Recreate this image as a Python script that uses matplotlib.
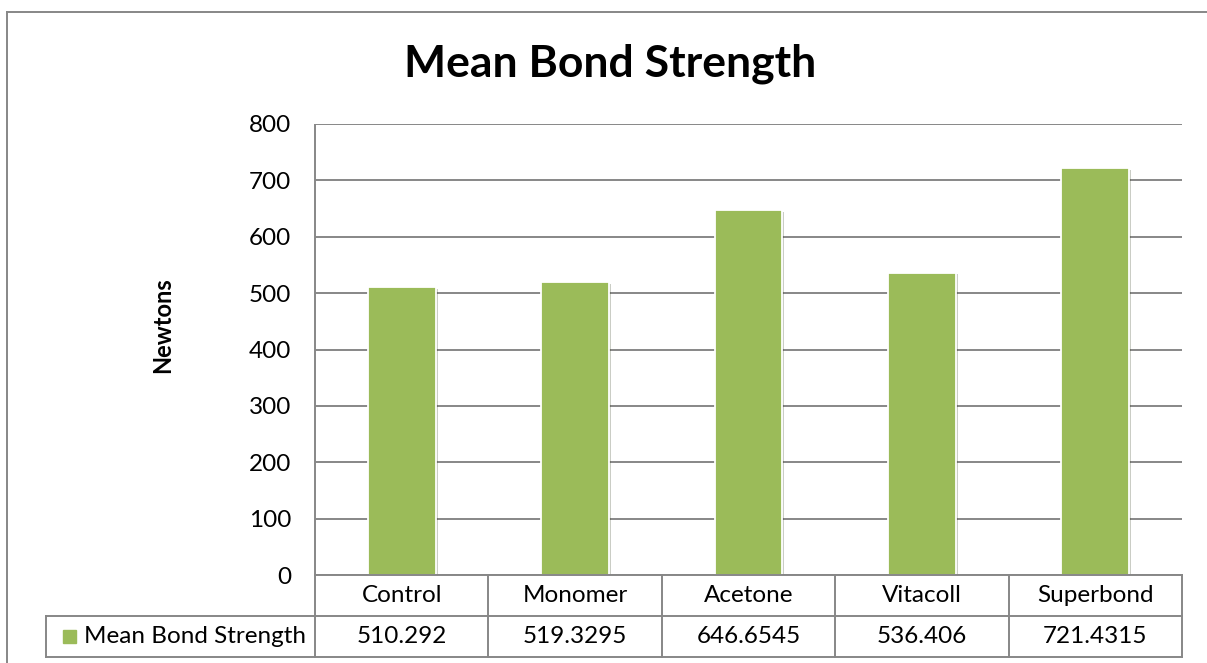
import matplotlib
matplotlib.use("Agg")
import matplotlib.pyplot as plt
from matplotlib.lines import Line2D
from matplotlib.patches import Rectangle
import matplotlib.patheffects as pe

plt.rcParams["font.family"] = ["Lato", "DejaVu Sans"]

categories = ["Control", "Monomer", "Acetone", "Vitacoll", "Superbond"]
values = [510.292, 519.3295, 646.6545, 536.406, 721.4315]
value_labels = ["510.292", "519.3295", "646.6545", "536.406", "721.4315"]
series_name = "Mean Bond Strength"
yticks = [0, 100, 200, 300, 400, 500, 600, 700, 800]

W, H = 1207, 663
GREEN = "#9BBB59"
GRID = "#878787"
FS = 17.5

fig = plt.figure(figsize=(W / 100, H / 100), dpi=100)
ax = fig.add_axes([315 / W, 1 - 575 / H, 867 / W, 451 / H])

x = list(range(len(categories)))
bars = ax.bar(x, values, width=0.39, color=GREEN, edgecolor="white",
              linewidth=1.3, zorder=3)
for b in bars:
    b.set_path_effects([pe.SimplePatchShadow(offset=(1.5, -1), alpha=0.25),
                        pe.Normal()])

ax.set_xlim(-0.5, len(categories) - 0.5)
ax.set_ylim(0, 800)
ax.set_yticks(yticks)
ax.set_yticklabels([str(t) for t in yticks], fontsize=FS)
ax.tick_params(axis="y", length=0, pad=17)
ax.set_xticks([])
ax.grid(True, axis="y", color=GRID, linewidth=1.4, zorder=0)
for s in ["top", "right", "bottom"]:
    ax.spines[s].set_visible(False)
ax.spines["left"].set_color(GRID)
ax.spines["left"].set_linewidth(1.4)
ax.spines["left"].set_capstyle("butt")

ax.set_ylabel("Newtons", fontsize=17, fontweight="bold")
ax.yaxis.set_label_coords(-0.162, 0.555)

fig.text(610 / W, 1 - 64 / H, "Mean Bond Strength", fontsize=32,
         fontweight="bold", ha="center", va="center")

# data table under the plot
r0 = 1 - 575 / H  # top of table
r1 = 1 - 616 / H  # row separator
r2 = 1 - 657 / H  # bottom of table
tbl_left = 46 / W
tbl_right = 1182 / W
lw = 1.4
def hline(y, x0, x1):
    fig.add_artist(Line2D([x0, x1], [y, y], color=GRID, lw=lw))
def vline(xp, y0, y1):
    fig.add_artist(Line2D([xp, xp], [y0, y1], color=GRID, lw=lw))

hline(r0, 315 / W, tbl_right)
hline(r1, tbl_left, tbl_right)
hline(r2, tbl_left, tbl_right)
vline(tbl_left, r2, r1)
col_w = 867 / len(categories)
for i in range(len(categories) + 1):
    xp = (315 + i * col_w) / W
    vline(xp, r2, r0)
for i, (c, v) in enumerate(zip(categories, value_labels)):
    xc = (315 + (i + 0.5) * col_w) / W
    fig.text(xc, (r0 + r1) / 2, c, fontsize=FS, ha="center", va="center")
    fig.text(xc, (r1 + r2) / 2, v, fontsize=FS, ha="center", va="center")
fig.add_artist(Rectangle((63 / W, (r1 + r2) / 2 - 6.5 / H), 13 / W, 13 / H,
                         transform=fig.transFigure, color=GREEN))
fig.text(84 / W, (r1 + r2) / 2, series_name, fontsize=FS, ha="left", va="center")

# outer chart border (left and top visible)
fig.add_artist(Line2D([7 / W, 7 / W], [0, 1 - 12 / H], color=GRID, lw=1.4))
fig.add_artist(Line2D([7 / W, 1], [1 - 12 / H, 1 - 12 / H], color=GRID, lw=1.4))

fig.savefig("out.png", dpi=100, facecolor="white")
